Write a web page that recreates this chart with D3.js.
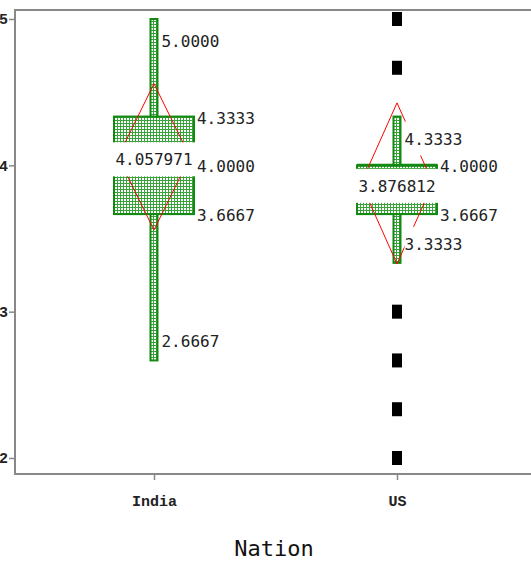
<!DOCTYPE html>
<html>
<head>
<meta charset="utf-8">
<script src="https://cdn.jsdelivr.net/npm/d3@7"></script>
<style>
  body { margin: 0; background: #fff; }
  .num { font-family: "DejaVu Sans Mono", monospace; font-size: 16px; fill: #222; }
  .axis text { font-family: "Liberation Mono", monospace; font-weight: bold; fill: #222; }
  .axis line { stroke: #888; stroke-width: 1.5; }
</style>
</head>
<body>
<script>
const nations = ["India", "US"];
const whiskerHigh = [5.0, 4.3333];
const upperQuartile = [4.3333, 4.0];
const medians = [4.0, 4.0];
const lowerQuartile = [3.6667, 3.6667];
const whiskerLow = [2.6667, 3.3333];
const means = [4.057971, 3.876812];
const meanSpan = [0.5, 0.55];
const outlierNation = "US";
const outliers = [5, 4.6667, 3, 2.6667, 2.3333, 2];
const yTicks = [2, 3, 4, 5];

const green = "#128a12";
const W = 531, H = 572;
const frameLeft = 15, frameTop = 10, frameBottom = 474;

const svg = d3.select("body").append("svg")
  .attr("width", W)
  .attr("height", H);

const defs = svg.append("defs");
const pat = defs.append("pattern")
  .attr("id", "dots")
  .attr("width", 3).attr("height", 3)
  .attr("patternUnits", "userSpaceOnUse");
pat.append("rect").attr("width", 3).attr("height", 3).attr("fill", "#3aa23a");
pat.append("rect").attr("x", 1).attr("y", 1).attr("width", 2).attr("height", 2).attr("fill", "#fff");

const x = d3.scalePoint().domain(nations).range([frameLeft, 536]).padding(0.572);
const y = d3.scaleLinear().domain([2, 5]).range([458, 19]);

const boxHalf = 40, whiskHalf = 3.5, diamondHalf = 36;

const stats = nations.map((n, i) => ({
  nation: n,
  hi: whiskerHigh[i], q3: upperQuartile[i], med: medians[i],
  q1: lowerQuartile[i], lo: whiskerLow[i], mean: means[i], span: meanSpan[i]
}));

// frame
svg.append("path")
  .attr("d", `M${W},${frameTop}H${frameLeft}V${frameBottom}H${W}`)
  .attr("fill", "none")
  .attr("stroke", "#888")
  .attr("stroke-width", 2);

// axes
const yAxis = svg.append("g").attr("class", "axis")
  .attr("transform", `translate(${frameLeft},0)`)
  .call(d3.axisLeft(y).tickValues(yTicks).tickFormat(d3.format("d")).tickSize(6).tickPadding(1));
yAxis.select(".domain").remove();
yAxis.selectAll("text").style("font-size", "15px");

const xAxis = svg.append("g").attr("class", "axis")
  .attr("transform", `translate(0,${frameBottom})`)
  .call(d3.axisBottom(x).tickSize(6).tickPadding(15));
xAxis.select(".domain").remove();
xAxis.selectAll("text").style("font-size", "15px");

svg.append("text")
  .attr("x", 274).attr("y", 556)
  .attr("text-anchor", "middle")
  .style("font-family", "DejaVu Sans Mono, monospace")
  .style("font-size", "22px")
  .style("fill", "#111")
  .text("Nation");

const g = svg.append("g");

// whiskers
g.selectAll(".whisker").data(stats).enter().append("rect")
  .attr("x", d => x(d.nation) - whiskHalf)
  .attr("y", d => y(d.hi))
  .attr("width", whiskHalf * 2)
  .attr("height", d => y(d.lo) - y(d.hi))
  .attr("fill", "url(#dots)")
  .attr("stroke", green)
  .attr("stroke-width", 2);

// boxes
g.selectAll(".box").data(stats).enter().append("rect")
  .attr("x", d => x(d.nation) - boxHalf)
  .attr("y", d => y(d.q3))
  .attr("width", boxHalf * 2)
  .attr("height", d => y(d.q1) - y(d.q3))
  .attr("fill", "url(#dots)")
  .attr("stroke", green)
  .attr("stroke-width", 2);

// medians
g.selectAll(".median").data(stats).enter().append("line")
  .attr("x1", d => x(d.nation) - boxHalf)
  .attr("x2", d => x(d.nation) + boxHalf)
  .attr("y1", d => y(d.med))
  .attr("y2", d => y(d.med))
  .attr("stroke", green)
  .attr("stroke-width", 3);

// mean diamonds
g.selectAll(".diamond").data(stats).enter().append("path")
  .attr("d", d => {
    const cx = x(d.nation);
    return `M${cx},${y(d.mean + d.span)}L${cx + diamondHalf},${y(d.mean)}L${cx},${y(d.mean - d.span)}L${cx - diamondHalf},${y(d.mean)}Z`;
  })
  .attr("fill", "none")
  .attr("stroke", "#f00")
  .attr("stroke-width", 1);

// labels
const labels = [];
stats.forEach(d => {
  const cx = x(d.nation);
  labels.push({ x: cx + whiskHalf + 4, y: y(d.hi) + 22, t: d.hi.toFixed(4) });
  labels.push({ x: cx + boxHalf + 3, y: y(d.q3) + 1, t: d.q3.toFixed(4) });
  if (d.med !== d.q3) labels.push({ x: cx + boxHalf + 3, y: y(d.med) + 1, t: d.med.toFixed(4) });
  labels.push({ x: cx + boxHalf + 3, y: y(d.q1) + 1, t: d.q1.toFixed(4) });
  labels.push({ x: cx + whiskHalf + 4, y: y(d.lo) - 19, t: d.lo.toFixed(4) });
  labels.push({ x: cx, y: y(d.mean) + 2.5, t: d.mean.toFixed(6), mid: true, w: boxHalf * 2 + 5 });
});

g.selectAll(".lblbg").data(labels).enter().append("rect")
  .attr("x", d => d.mid ? d.x - d.w / 2 : d.x)
  .attr("y", d => d.y - 17)
  .attr("width", d => d.mid ? d.w : d.t.length * 9.6 + 2)
  .attr("height", 34)
  .attr("fill", "#fff");

g.selectAll(".lbl").data(labels).enter().append("text")
  .attr("class", "num")
  .attr("x", d => d.x)
  .attr("y", d => d.y + 6)
  .attr("text-anchor", d => d.mid ? "middle" : "start")
  .text(d => d.t);

// outliers
g.selectAll(".outlier").data(outliers).enter().append("rect")
  .attr("x", x(outlierNation) - 5)
  .attr("y", d => y(d) - 7)
  .attr("width", 10)
  .attr("height", 14)
  .attr("fill", "#000");
</script>
</body>
</html>
